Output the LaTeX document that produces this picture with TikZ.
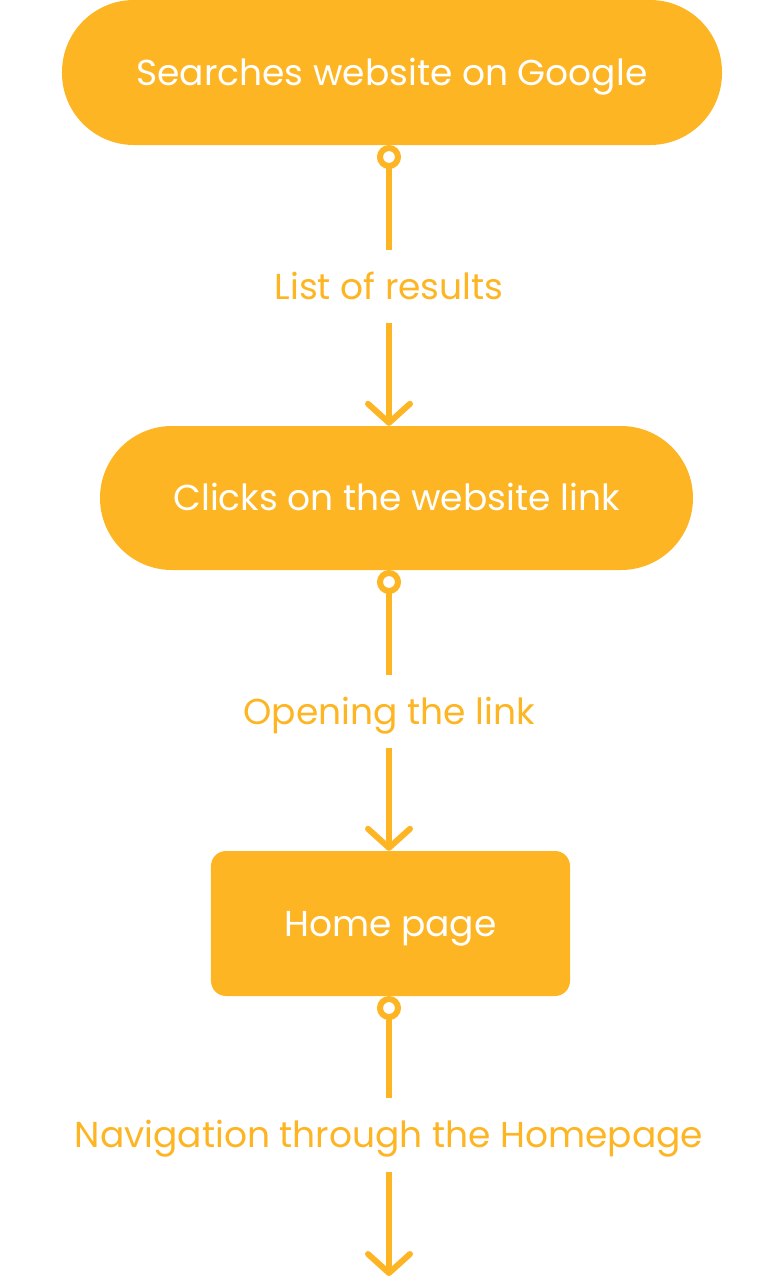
\documentclass[tikz,border=0pt]{standalone}
\usepackage{fontspec}
\setmainfont{Poppins}
\usetikzlibrary{arrows.meta}
\definecolor{gold}{RGB}{253,181,36}
\begin{document}
\begin{tikzpicture}[x=1bp,y=-1bp,
  txt/.style={font=\fontsize{36bp}{40bp}\selectfont, text height=25.2bp, text depth=0bp},
  stadium/.style={txt, fill=gold, rounded corners=72bp, inner sep=0, text=white},
  pagebox/.style={txt, fill=gold, rounded corners=15bp, inner sep=0, text=white},
  ring/.style={circle, draw=gold, fill=white, line width=6bp, minimum size=18bp, inner sep=0},
  lbl/.style={txt, text=gold, inner sep=0, minimum height=73bp},
  conn/.style={draw=gold, line width=6bp},
  arr/.style={conn, -{Straight Barb[length=19bp, width=42bp, round]}}
]
\useasboundingbox (0,0) rectangle (778,1280);
\node[stadium, minimum width=660bp, minimum height=145bp] (b1) at (392,72.5) {Searches website on Google};
\node[stadium, minimum width=593bp, minimum height=144bp] (b2) at (396.5,498) {Clicks on the website link};
\node[pagebox, minimum width=359bp, minimum height=145bp] (b3) at (390.5,923.5) {Home page};
\node[lbl] (l1) at (389,286.5) {List of results};
\node[lbl] (l2) at (389,711.5) {Opening the link};
\node[lbl] (l3) at (389,1135) {Navigation through the Homepage};
\coordinate (end) at (389,1276);
\draw[conn] (389,166) -- (l1.north);
\draw[arr] (l1.south) -- (l1.south |- b2.north);
\draw[conn] (389,591) -- (l2.north);
\draw[arr] (l2.south) -- (l2.south |- b3.north);
\draw[conn] (389,1017) -- (l3.north);
\draw[arr] (l3.south) -- (end);
\node[ring] (c1) at (389,157) {};
\node[ring] (c2) at (389,582) {};
\node[ring] (c3) at (389,1008) {};
\end{tikzpicture}
\end{document}
